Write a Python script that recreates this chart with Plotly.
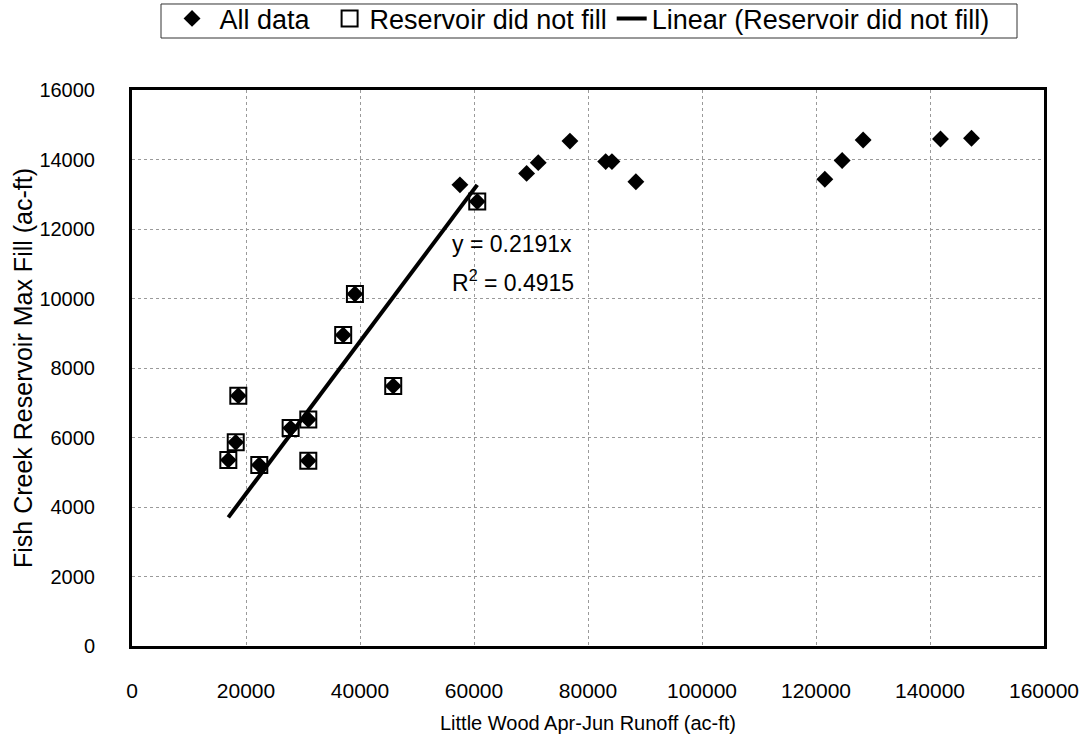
import plotly.graph_objects as go

# Years where the reservoir did not fill (x: Little Wood Apr-Jun runoff, y: max fill)
nofill_x = [16900, 18200, 18650, 22330, 27830, 30930, 30930, 37050, 39110, 45830, 60570]
nofill_y = [5350, 5860, 7200, 5210, 6270, 6520, 5330, 8950, 10130, 7480, 12790]

# Remaining years (reservoir filled)
fill_x = [57530, 69230, 71270, 76830, 83100, 84200, 88400, 121550, 124590, 128270, 141840, 147280]
fill_y = [13270, 13600, 13910, 14530, 13940, 13940, 13360, 13430, 13970, 14560, 14590, 14610]

all_x = nofill_x + fill_x
all_y = nofill_y + fill_y

slope = 0.2191
r2 = 0.4915

x_ticks = [0, 20000, 40000, 60000, 80000, 100000, 120000, 140000, 160000]
y_ticks = [0, 2000, 4000, 6000, 8000, 10000, 12000, 14000, 16000]

FONT = "Liberation Sans, Arial, sans-serif"
NB = "\u00a0"

fig = go.Figure()
fig.add_trace(go.Scatter(
    x=all_x, y=all_y, mode="markers", name=NB + "All data" + NB * 2,
    marker=dict(symbol="diamond", size=13, color="black"),
))
fig.add_trace(go.Scatter(
    x=nofill_x, y=nofill_y, mode="markers", name="Reservoir did not fill",
    marker=dict(symbol="square-open", size=16, color="black", line=dict(width=2, color="black")),
))
x0, x1 = min(nofill_x), max(nofill_x)
fig.add_trace(go.Scatter(
    x=[x0, x1], y=[slope * x0, slope * x1], mode="lines",
    name="Linear (Reservoir did not fill)",
    line=dict(color="black", width=4),
))

fig.add_annotation(x=55800, y=11570, text=f"y = {slope}x", showarrow=False,
                   xanchor="left", yanchor="middle", font=dict(size=23, color="black", family=FONT))
fig.add_annotation(x=55800, y=10500, text=f"R<sup>2</sup> = {r2}", showarrow=False,
                   xanchor="left", yanchor="middle", font=dict(size=23, color="black", family=FONT))

# legend frame (wider than its entries, as in the reference)
fig.add_shape(type="rect", xref="paper", yref="paper",
              x0=0.0318, x1=0.9704, y0=1.0935, y1=1.1547,
              line=dict(color="#333333", width=1), fillcolor="rgba(0,0,0,0)")

axis_common = dict(
    showline=True, linecolor="black", linewidth=3, mirror=True,
    showgrid=True, gridcolor="#9a9a9a", gridwidth=1, griddash="dot",
    zeroline=False, ticks="", automargin=False,
)
fig.update_xaxes(range=[0, 160000], tickvals=x_ticks, ticktext=[str(v) for v in x_ticks],
                 tickfont=dict(size=21, color="black", family=FONT), ticklabelstandoff=24,
                 title=dict(text="Little Wood Apr-Jun Runoff (ac-ft)", font=dict(size=20, color="black", family=FONT), standoff=16),
                 **axis_common)
fig.update_yaxes(range=[0, 16000], tickvals=y_ticks, ticktext=[str(v) for v in y_ticks],
                 tickfont=dict(size=20, color="black", family=FONT), ticklabelstandoff=30,
                 title=dict(text="Fish Creek Reservoir Max Fill (ac-ft)", font=dict(size=25, color="black", family=FONT), standoff=0),
                 **axis_common)

fig.update_layout(
    width=1087, height=734,
    margin=dict(l=132, r=43, t=90, b=88, autoexpand=False),
    paper_bgcolor="white", plot_bgcolor="white",
    font=dict(family=FONT, color="black"),
    legend=dict(orientation="h", x=0.0439, y=1.172, xanchor="left", yanchor="top",
                borderwidth=0, bgcolor="rgba(0,0,0,0)",
                font=dict(size=27, color="black", family=FONT),
                itemwidth=30, tracegroupgap=0),
    showlegend=True,
)

fig.write_html("out.html")
